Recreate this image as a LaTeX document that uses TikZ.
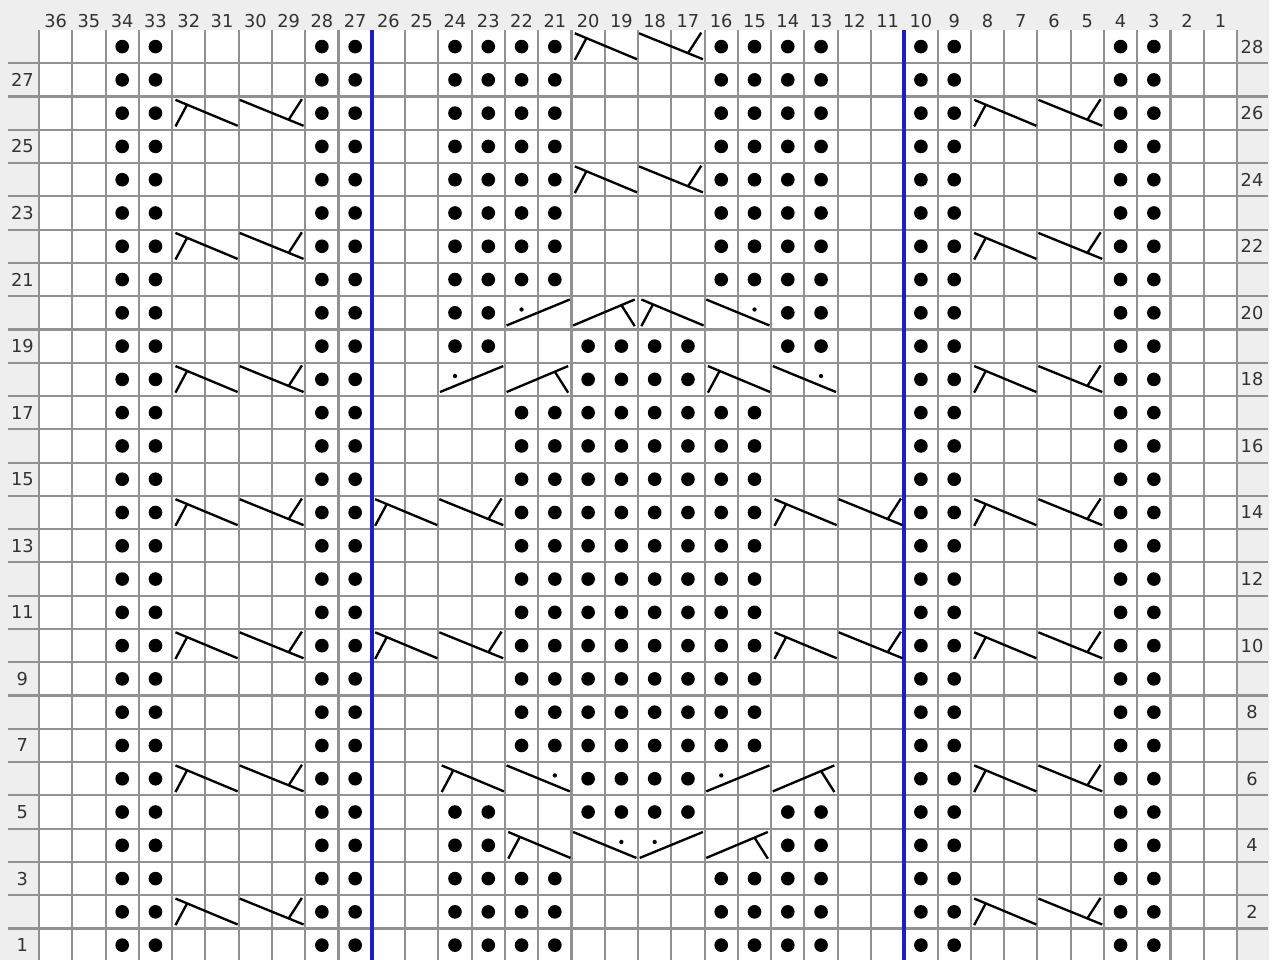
\documentclass[tikz,border=0pt]{standalone}
\usepackage{fontspec}
\setmainfont{DejaVu Sans}
\usetikzlibrary{calc}
\definecolor{cGrid}{RGB}{145,145,145}
\definecolor{cRepeat}{RGB}{30,30,200}
\definecolor{cMargin}{RGB}{238,238,238}
\definecolor{cNum}{RGB}{50,50,50}

\tikzset{
    cableline/.style={draw=black, line width=1pt},
    % half crossings, anchored at the lower left corner of two cells
    fallTL/.pic={\draw[cableline] (0.1,0.9) -- (1.97,0.12) (0.45,0.754) -- (0.1,0.1);},
    fallTU/.pic={\draw[cableline] (0.03,0.9) -- (1.95,0.12) (1.5,0.3) -- (1.9,0.92);},
    fallDR/.pic={\draw[cableline] (0.05,0.9) -- (1.95,0.12); \fill (1.5,0.6) circle (0.065);},
    riseDL/.pic={\draw[cableline] (0.05,0.12) -- (1.95,0.9); \fill (0.5,0.6) circle (0.065);},
    riseTR/.pic={\draw[cableline] (0.05,0.12) -- (1.9,0.9) (1.5,0.731) -- (1.9,0.1);},
    cablefour/.pic={\pic {fallTL}; \pic at (2,0) {fallTU};}
}

\begin{document}
\begin{tikzpicture}[x=0.5cm, y=0.5cm,
                    gridline/.style={draw=cGrid, line width=0.9pt},
                    repeatline/.style={draw=cRepeat, line width=1.6pt},
                    numtext/.style={text=cNum, inner sep=0pt, font=\fontsize{7.6}{9}\selectfont}]

    % Sheet
    \useasboundingbox (-1.172,0.055) rectangle (37.11,28.9);
    \fill[cMargin] (-1.172,0.055) rectangle (36.95,28.9);
    \fill[white] (0,0) rectangle (36,28);

    % Grid
    \foreach \r in {0,...,27}
        \draw[gridline] (-0.93,\r) -- (36.93,\r);
    \foreach \c in {0,...,36}
        \draw[gridline] (\c,0) -- (\c,28);
    \draw[repeatline] (10,0) -- (10,28);
    \draw[repeatline] (26,0) -- (26,28);

    % Purl stitches
    \foreach \c in {34,33,28,27,10,9,4,3}
        \foreach \r in {1,...,28}
            \fill ({36.5-\c},{\r-0.5}) circle (0.205);
    \foreach \r in {1,2,3,21,22,23,24,25,26,27,28}
        \foreach \c in {24,23,22,21,16,15,14,13}
            \fill ({36.5-\c},{\r-0.5}) circle (0.205);
    \foreach \r in {5,19}
        \foreach \c in {24,23,20,19,18,17,14,13}
            \fill ({36.5-\c},{\r-0.5}) circle (0.205);
    \foreach \r in {4,20}
        \foreach \c in {24,23,14,13}
            \fill ({36.5-\c},{\r-0.5}) circle (0.205);
    \foreach \r in {6,18}
        \foreach \c in {17,...,20}
            \fill ({36.5-\c},{\r-0.5}) circle (0.205);
    \foreach \r in {7,...,17}
        \foreach \c in {15,...,22}
            \fill ({36.5-\c},{\r-0.5}) circle (0.205);

    % Four stitch cables
    \foreach \r in {2,6,10,14,18,22,26}
        \foreach \c in {32,8}
            \pic at ({36-\c},{\r-1}) {cablefour};
    \foreach \r in {10,14}
        \foreach \c in {26,14}
            \pic at ({36-\c},{\r-1}) {cablefour};
    \foreach \r in {24,28}
        \pic at (16,{\r-1}) {cablefour};

    % Travelling stitches
    % Row 20
    \pic at (14,19) {riseDL};
    \pic at (16,19) {riseTR};
    \pic at (18,19) {fallTL};
    \pic at (20,19) {fallDR};
    % Row 18
    \pic at (12,17) {riseDL};
    \pic at (14,17) {riseTR};
    \pic at (20,17) {fallTL};
    \pic at (22,17) {fallDR};
    % Row 6
    \pic at (12,5) {fallTL};
    \pic at (14,5) {fallDR};
    \pic at (20,5) {riseDL};
    \pic at (22,5) {riseTR};
    % Row 4
    \pic at (14,3) {fallTL};
    \pic at (16,3) {fallDR};
    \pic at (18,3) {riseDL};
    \pic at (20,3) {riseTR};

    % Numbers
    \foreach \c in {1,...,36}
        \node[numtext] (col\c) at ({36.5-\c},28.27) {\c};
    \foreach \r in {1,3,...,27}
        \node[numtext] (row\r) at (-0.5,{\r-0.5}) {\r};
    \foreach \r in {2,4,...,28}
        \node[numtext] (row\r) at (36.45,{\r-0.5}) {\r};

\end{tikzpicture}
\end{document}
